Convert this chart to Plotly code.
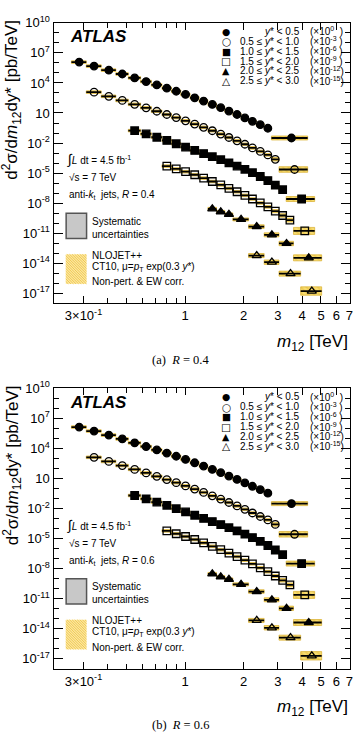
import plotly.graph_objects as go

W, H = 359, 737
FONT = "Liberation Sans"

# ---------------- data ----------------
# m12 bin edges (TeV) per y* range
s1_edges = [0.26, 0.31, 0.37, 0.44, 0.51, 0.59, 0.67, 0.76, 0.85, 0.95, 1.06, 1.18, 1.31, 1.45, 1.60, 1.76, 1.94, 2.12, 2.32, 2.55, 2.78, 4.27]
s2_edges = [0.31, 0.37, 0.44, 0.51, 0.59, 0.67, 0.76, 0.85, 0.95, 1.06, 1.18, 1.31, 1.45, 1.60, 1.76, 1.94, 2.12, 2.32, 2.55, 2.78, 3.04, 4.27]
s3_edges = [0.51, 0.59, 0.67, 0.76, 0.85, 0.95, 1.06, 1.18, 1.31, 1.45, 1.60, 1.76, 1.94, 2.12, 2.32, 2.55, 2.78, 3.04, 3.31, 4.64]
s4_edges = [0.76, 0.85, 0.95, 1.06, 1.18, 1.31, 1.45, 1.60, 1.76, 1.94, 2.12, 2.32, 2.55, 2.78, 3.04, 3.31, 3.61, 4.64]
s5_edges = [1.31, 1.45, 1.60, 1.76, 2.12, 2.55, 3.04, 3.61, 5.04]
s6_edges = [2.12, 2.55, 3.04, 3.93, 5.04]

# cross sections d2sigma/dm12dy* (pb/TeV), unscaled, R = 0.4
s1_r04 = [1.2e6, 4.8e5, 1.9e5, 7.8e4, 3.2e4, 1.38e4, 6.3e3, 3.0e3, 1.48e3, 710, 330, 155, 72, 34, 15.5, 7.1, 3.2, 1.48, 0.68, 0.30, 0.032]
s2_r04 = [1.2e6, 4.6e5, 1.78e5, 7.4e4, 3.3e4, 1.5e4, 7.1e3, 3.5e3, 1.66e3, 790, 370, 170, 79, 36, 16.6, 7.6, 3.3, 1.45, 0.66, 0.24, 0.023]
s3_r04 = [1.74e5, 8.1e4, 3.8e4, 1.82e4, 8.5e3, 4.0e3, 1.86e3, 890, 440, 220, 107, 51, 24, 11, 4.6, 1.78, 0.63, 0.22, 0.026]
s4_r04 = [5.0e4, 2.6e4, 1.38e4, 6.9e3, 3.2e3, 1.45e3, 660, 300, 138, 60, 26, 10.5, 4.3, 1.58, 0.59, 0.204, 0.017]
s5_r04 = [2.7e3, 1.35e3, 760, 240, 46, 6.9, 0.95, 0.035]
s6_r04 = [59, 12.9, 0.93, 0.017]

# R = 0.6
s1_r06 = [1.35e6, 5.4e5, 2.15e5, 8.8e4, 3.6e4, 1.55e4, 7.1e3, 3.4e3, 1.66e3, 800, 370, 175, 81, 38, 17.5, 8.0, 3.6, 1.67, 0.77, 0.34, 0.031]
s2_r06 = [1.3e6, 5.0e5, 1.95e5, 8.1e4, 3.6e4, 1.64e4, 7.8e3, 3.8e3, 1.82e3, 870, 405, 186, 87, 40, 18.2, 8.4, 3.6, 1.6, 0.73, 0.26, 0.027]
s3_r06 = [2.0e5, 9.4e4, 4.4e4, 2.1e4, 9.8e3, 4.6e3, 2.15e3, 1.03e3, 505, 252, 123, 59, 27.5, 12.6, 5.3, 2.05, 0.73, 0.25, 0.032]
s4_r06 = [5.9e4, 3.05e4, 1.62e4, 8.1e3, 3.75e3, 1.7e3, 775, 350, 162, 70, 30.5, 12.2, 5.0, 1.85, 0.69, 0.24, 0.024]
s5_r06 = [3.0e3, 1.5e3, 850, 270, 52, 7.8, 1.1, 0.042]
s6_r06 = [68, 12.5, 1.3, 0.02]

# theory (NLOJET++) uncertainty half-width, in decades
s1_theo = [0.13] * 20 + [0.2]
s2_theo = [0.13] * 19 + [0.18, 0.28]
s3_theo = [0.13] * 16 + [0.16, 0.18, 0.25]
s4_theo = [0.13] * 13 + [0.16, 0.18, 0.2, 0.35]
s5_theo = [0.15, 0.15, 0.15, 0.15, 0.18, 0.2, 0.22, 0.3]
s6_theo = [0.2, 0.22, 0.25, 0.42]

scales = [1, 1e-3, 1e-6, 1e-9, 1e-12, 1e-15]
ystar_labels = ["<i>y</i>* < 0.5", "0.5 \u2264 <i>y</i>* < 1.0", "1.0 \u2264 <i>y</i>* < 1.5",
                "1.5 \u2264 <i>y</i>* < 2.0", "2.0 \u2264 <i>y</i>* < 2.5", "2.5 \u2264 <i>y</i>* < 3.0"]
scale_labels = ["(\u00d710<sup>0</sup>  )", "(\u00d710<sup>-3</sup> )", "(\u00d710<sup>-6</sup> )",
                "(\u00d710<sup>-9</sup> )", "(\u00d710<sup>-12</sup>)", "(\u00d710<sup>-15</sup>)"]
legend_glyphs = ["\u25cf", "\u25cb", "\u25a0", "\u25a1", "\u25b2", "\u25b3"]
symbols = ["circle", "circle-open", "square", "square-open", "triangle-up", "triangle-up-open"]

edges_all = [s1_edges, s2_edges, s3_edges, s4_edges, s5_edges, s6_edges]
theo_all = [s1_theo, s2_theo, s3_theo, s4_theo, s5_theo, s6_theo]

x_ticks = [0.3, 1, 2, 3, 4, 5, 6, 7]
x_ticktext = ["3\u00d710<sup>-1</sup>", "1", "2", "3", "4", "5", "6", "7"]
x_minor = [0.4, 0.5, 0.6, 0.7, 0.8, 0.9]
y_exps = [10, 7, 4, 1, -2, -5, -8, -11, -14, -17]

panels = [
    dict(values=[s1_r04, s2_r04, s3_r04, s4_r04, s5_r04, s6_r04], R="0.4", tag="(a)",
         xa="x", ya="y", top=14, bottom=298),
    dict(values=[s1_r06, s2_r06, s3_r06, s4_r06, s5_r06, s6_r06], R="0.6", tag="(b)",
         xa="x2", ya="y2", top=384, bottom=668),
]

fig = go.Figure()

for p in panels:
    for i in range(6):
        edges = edges_all[i]
        vals = [v * scales[i] for v in p["values"][i]]
        lo = edges[:-1]
        hi = edges[1:]
        xc = [(a + b) / 2 for a, b in zip(lo, hi)]
        # theory bands
        bx, by = [], []
        for a, b, v, d in zip(lo, hi, vals, theo_all[i]):
            y0, y1 = v * 10 ** (-d), v * 10 ** d
            bx += [a, b, b, a, a, None]
            by += [y0, y0, y1, y1, y0, None]
        fig.add_trace(go.Scatter(
            x=bx, y=by, mode="lines", fill="toself", xaxis=p["xa"], yaxis=p["ya"],
            line=dict(color="#d9ad2b", width=0.7),
            fillcolor="#f5d55f",
            fillpattern=dict(shape="\\", fgcolor="#e2b12c", bgcolor="#f7dc70", size=4, solidity=0.35),
            hoverinfo="skip", showlegend=False))
        # data points with bin-width bars
        fig.add_trace(go.Scatter(
            x=xc, y=vals, mode="markers", xaxis=p["xa"], yaxis=p["ya"],
            marker=dict(symbol=symbols[i], size=7.5 if i < 4 else 8, color="black",
                        line=dict(width=1.3, color="black")),
            error_x=dict(type="data", symmetric=False,
                         array=[b - c for b, c in zip(hi, xc)],
                         arrayminus=[c - a for a, c in zip(lo, xc)],
                         thickness=1.8, width=0, color="black"),
            showlegend=False))

ytickvals = [10.0 ** e for e in y_exps]
yticktext = ["10" if e == 1 else "10<sup>%d</sup>" % e for e in y_exps]
yminor = [10.0 ** e for e in range(-18, 11) if e not in y_exps]

def xaxis_cfg(dom_anchor):
    return dict(type="log", range=[-0.677, 0.8485], domain=[54 / W, 353 / W], anchor=dom_anchor,
                showline=True, linecolor="black", linewidth=1.3, mirror="allticks",
                ticks="inside", ticklen=7, tickwidth=1, tickcolor="black",
                tickvals=x_ticks, ticktext=x_ticktext,
                minor=dict(tickvals=x_minor, ticks="inside", ticklen=5, tickcolor="black"),
                showgrid=False, zeroline=False,
                tickfont=dict(family=FONT, size=13, color="black"))

def yaxis_cfg(p, anchor):
    return dict(type="log", range=[-18, 10], domain=[1 - p["bottom"] / H, 1 - p["top"] / H], anchor=anchor,
                showline=True, linecolor="black", linewidth=1.3, mirror="allticks",
                ticks="inside", ticklen=9, tickwidth=1, tickcolor="black",
                tickvals=ytickvals, ticktext=yticktext,
                minor=dict(tickvals=yminor, ticks="inside", ticklen=5, tickcolor="black"),
                showgrid=False, zeroline=False,
                tickfont=dict(family=FONT, size=13, color="black"))

def ann(text, x, y, size=10, xanchor="left", yanchor="middle", family=FONT, **kw):
    return dict(text=text, x=x / W, y=1 - y / H, xref="paper", yref="paper", showarrow=False,
                xanchor=xanchor, yanchor=yanchor, font=dict(family=family, size=size, color="black"), **kw)

def rect(x0, y0, x1, y1, **kw):
    return dict(type="rect", xref="paper", yref="paper", x0=x0 / W, x1=x1 / W,
                y0=1 - y1 / H, y1=1 - y0 / H, **kw)

annotations = []
shapes = []
for p in panels:
    o = p["top"] - 14
    annotations.append(ann("d<sup>2</sup>\u03c3/d<i>m</i><sub>12</sub>dy* [pb/TeV]", 12, 9 + o,
                           size=17, xanchor="center", yanchor="top", textangle=-90))
    annotations.append(ann("<i>m</i><sub>12</sub> [TeV]", 353, 338 + o, size=17, xanchor="right"))
    annotations.append(ann("<b><i>ATLAS</i></b>", 69, 28 + o, size=17))
    annotations.append(ann("<span style='font-size:14px'>\u222b</span><i>L</i> dt = 4.5 fb<sup>-1</sup>",
                           66, 152 + o, size=10))
    annotations.append(ann("\u221as = 7 TeV", 68, 171 + o, size=10))
    annotations.append(ann("anti-<i>k</i><sub>t</sub>  jets, <i>R</i> = " + p["R"], 68, 188.5 + o, size=10))
    annotations.append(ann("Systematic", 91, 215 + o, size=10))
    annotations.append(ann("uncertainties", 91, 228 + o, size=10))
    annotations.append(ann("NLOJET++", 91, 249.5 + o, size=10))
    annotations.append(ann("CT10, \u03bc=<i>p</i><sub>T</sub> exp(0.3 <i>y</i>*)", 91, 261 + o, size=10))
    annotations.append(ann("Non-pert. & EW corr.", 91, 276 + o, size=10))
    annotations.append(ann(p["tag"] + "  <i>R</i> = " + p["R"], 182, 355 + o, size=12.5,
                           xanchor="center", family="Liberation Serif"))
    for i in range(6):
        yy = 22.7 + 10 * i + o
        annotations.append(ann(legend_glyphs[i], 228, yy, size=9.5 if i % 2 == 0 else 10.5,
                               xanchor="center", family="DejaVu Sans"))
        annotations.append(ann(ystar_labels[i], 305, yy, size=10, xanchor="right"))
        annotations.append(ann(scale_labels[i], 311, yy, size=10))
    # legend boxes
    shapes.append(rect(66.7, 206.7 + o, 87.3, 232.3 + o, fillcolor="#c8c8c8",
                       line=dict(color="#555555", width=1.5)))
    x0, y0, x1, y1 = 66.3, 248.3 + o, 87.3, 278.3 + o
    shapes.append(rect(x0, y0, x1, y1, fillcolor="#fbe6a0", line=dict(width=0)))
    path = ""
    c = -(y1 - y0)
    while c < (x1 - x0):
        xs = max(x0, x0 + c)
        xe = min(x1, x0 + c + (y1 - y0))
        ys = y0 + (xs - x0) - c
        ye = y0 + (xe - x0) - c
        path += "M%.5f,%.5f L%.5f,%.5f " % (xs / W, 1 - ys / H, xe / W, 1 - ye / H)
        c += 2.6
    shapes.append(dict(type="path", xref="paper", yref="paper", path=path,
                       line=dict(color="#eec23e", width=0.8)))

fig.update_layout(
    width=W, height=H, margin=dict(l=0, r=0, t=0, b=0),
    paper_bgcolor="white", plot_bgcolor="white", showlegend=False,
    xaxis=xaxis_cfg("y"), yaxis=yaxis_cfg(panels[0], "x"),
    xaxis2=xaxis_cfg("y2"), yaxis2=yaxis_cfg(panels[1], "x2"),
    annotations=annotations, shapes=shapes,
)

fig.write_html("out.html")
